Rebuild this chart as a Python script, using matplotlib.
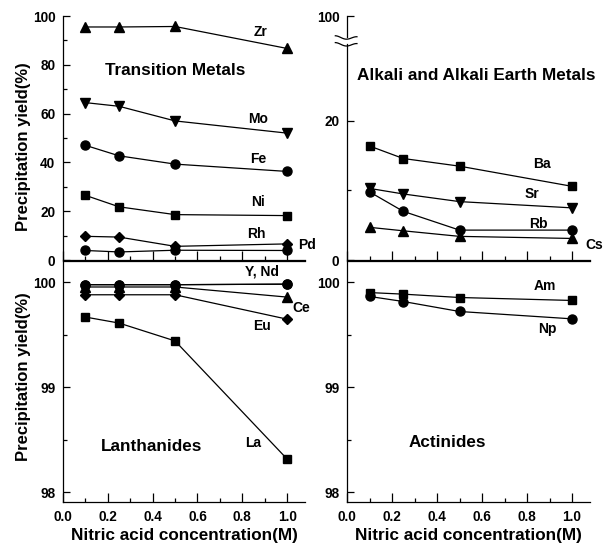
#!/usr/bin/env python3
"""
Precipitation yield vs nitric acid concentration, four element groups.
"""

import numpy as np
import matplotlib
matplotlib.use('Agg')
import matplotlib.pyplot as plt
from matplotlib.ticker import FixedLocator, FixedFormatter, MultipleLocator

plt.rcParams['font.family'] = ['Liberation Sans', 'DejaVu Sans']
plt.rcParams['font.weight'] = 'bold'

# nitric acid concentration (M)
conc = [0.1, 0.25, 0.5, 1.0]

# transition metals (%)
zr = [95.5, 95.5, 95.7, 86.7]
mo = [64.5, 63.0, 57.0, 52.0]
fe = [47.0, 42.7, 39.3, 36.3]
ni = [26.5, 21.8, 18.6, 18.2]
rh = [9.7, 9.4, 5.6, 6.6]
pd_ = [3.9, 3.3, 4.0, 3.9]

# alkali and alkali earth metals (%)
ba = [16.4, 14.6, 13.5, 10.6]
sr = [10.3, 9.5, 8.4, 7.5]
rb = [9.8, 7.0, 4.3, 4.3]
cs = [4.7, 4.2, 3.4, 3.1]

# lanthanides (%)
y_ = [99.975, 99.975, 99.975, 99.98]
nd = [99.975, 99.975, 99.975, 99.98]
ce = [99.953, 99.953, 99.953, 99.857]
eu = [99.879, 99.879, 99.879, 99.647]
la = [99.667, 99.61, 99.44, 98.317]

# actinides (%)
am = [99.90, 99.885, 99.853, 99.825]
np_ = [99.863, 99.815, 99.72, 99.65]

# tick labels
x_ticks = [0.0, 0.2, 0.4, 0.6, 0.8, 1.0]
x_ticklabels = ['0.0', '0.2', '0.4', '0.6', '0.8', '1.0']
ak_ticks = [0, 20, 100]
ln_ticks = [98, 99, 100]

LINE = dict(color='black', lw=0.9, clip_on=False, zorder=3)
MS = {'o': 6.5, 's': 6.0, '^': 7.0, 'v': 7.0, 'D': 5.5}


def series(ax, xs, ys, marker):
    ax.plot(xs, ys, marker=marker, ms=MS[marker], mfc='black', mec='black', **LINE)


def style_axis(ax, xlabels):
    ax.set_xlim(0, 1.08)
    ax.spines['right'].set_visible(False)
    ax.xaxis.set_major_locator(FixedLocator(x_ticks))
    ax.xaxis.set_major_formatter(FixedFormatter(x_ticklabels))
    ax.xaxis.set_minor_locator(MultipleLocator(0.1))
    ax.tick_params(axis='x', which='major', direction='in', length=6.5, width=0.9,
                   labelsize=9.8, pad=5.5, labelbottom=xlabels)
    ax.tick_params(axis='x', which='minor', direction='in', length=3, width=0.9)
    ax.tick_params(axis='y', which='major', direction='in', length=5, width=0.9,
                   labelsize=9.8, pad=5.5)
    ax.tick_params(axis='y', which='minor', direction='in', length=3, width=0.9)
    for s in ax.spines.values():
        s.set_linewidth(0.9)
    if xlabels:
        ax.set_xlabel('Nitric acid concentration(M)', fontsize=12.3, fontweight='bold',
                      labelpad=3)


W, H = 609, 547
fig = plt.figure(figsize=(W / 100, H / 100), dpi=100)

ax_tm = fig.add_axes([63 / W, 1 - 260 / H, 242 / W, 244 / H])
ax_ak = fig.add_axes([347 / W, 1 - 260 / H, 243 / W, 244 / H])
ax_ln = fig.add_axes([63 / W, 1 - 502.3 / H, 242 / W, 241.8 / H])
ax_ac = fig.add_axes([347 / W, 1 - 502.3 / H, 243 / W, 241.8 / H])

# --- transition metals
ax = ax_tm
for ys, m in [(zr, '^'), (mo, 'v'), (fe, 'o'), (ni, 's'), (rh, 'D'), (pd_, 'o')]:
    series(ax, conc, ys, m)
ax.set_ylim(0, 100)
ax.yaxis.set_major_locator(MultipleLocator(20))
ax.yaxis.set_minor_locator(MultipleLocator(10))
ax.spines['top'].set_visible(False)
style_axis(ax, False)
ax.text(0.5, 77.6, 'Transition Metals', ha='center', va='center', fontsize=12.3, fontweight='bold')
for name, x, y in [('Zr', 0.88, 93.4), ('Mo', 0.87, 57.7), ('Fe', 0.87, 41.3),
                   ('Ni', 0.87, 23.9), ('Rh', 0.865, 10.7)]:
    ax.text(x, y, name, ha='center', va='center', fontsize=10, fontweight='bold')
ax.text(1.05, 6.1, 'Pd', ha='left', va='center', fontsize=10, fontweight='bold', clip_on=False)
ax.text(-0.163, 0.464, 'Precipitation yield(%)', transform=ax.transAxes, rotation=90,
        ha='center', va='center', fontsize=12, fontweight='bold')

# --- alkali and alkali earth metals (broken axis: 0-30 linear, 30-100 squeezed)
ax = ax_ak
k = 5.1 / 70.0


def fwd(v):
    v = np.asarray(v, dtype=float)
    return np.where(v <= 30, v, 30 + (v - 30) * k)


def inv(u):
    u = np.asarray(u, dtype=float)
    return np.where(u <= 30, u, 30 + (u - 30) / k)


ax.set_yscale('function', functions=(fwd, inv))
for ys, m in [(ba, 's'), (sr, 'v'), (rb, 'o'), (cs, '^')]:
    series(ax, conc, ys, m)
ax.set_ylim(0, 100)
ax.yaxis.set_major_locator(FixedLocator(ak_ticks))
ax.yaxis.set_minor_locator(FixedLocator([10]))
ax.yaxis.set_major_formatter(FixedFormatter([str(t) for t in ak_ticks]))
ax.spines['top'].set_visible(False)
ax.spines['left'].set_visible(False)
style_axis(ax, False)
ax.plot([0, 0], [0, 0.885], transform=ax.transAxes, color='black', lw=0.9, clip_on=False)
ax.plot([0, 0], [0.913, 1.0], transform=ax.transAxes, color='black', lw=0.9, clip_on=False)
bx = np.linspace(-0.048, 0.041, 30)
wave = -0.006 * np.sin((bx - bx[0]) / (bx[-1] - bx[0]) * 2 * np.pi - np.pi / 2)
for y0 in (0.913, 0.885):
    ax.plot(bx, y0 + wave - 0.004 * (bx - bx[0]) / (bx[-1] - bx[0]), transform=ax.transAxes,
            color='black', lw=0.9, clip_on=False)
ax.text(0.575, 26.5, 'Alkali and Alkali Earth Metals', ha='center', va='center',
        fontsize=12.3, fontweight='bold')
for name, x, y in [('Ba', 0.866, 13.8), ('Sr', 0.82, 9.45), ('Rb', 0.85, 5.2)]:
    ax.text(x, y, name, ha='center', va='center', fontsize=10, fontweight='bold')
ax.text(1.1, 2.16, 'Cs', ha='center', va='center', fontsize=10, fontweight='bold', clip_on=False)

# --- lanthanides
ax = ax_ln
for ys, m in [(la, 's'), (eu, 'D'), (ce, '^'), (nd, 'o'), (y_, 'o')]:
    series(ax, conc, ys, m)
ax.set_ylim(97.905, 100.205)
ax.yaxis.set_major_locator(FixedLocator(ln_ticks))
ax.yaxis.set_minor_locator(FixedLocator([98.5, 99.5]))
ax.yaxis.set_major_formatter(FixedFormatter([str(t) for t in ln_ticks]))
style_axis(ax, True)
ax.text(0.396, 98.44, 'Lanthanides', ha='center', va='center', fontsize=12.3, fontweight='bold')
for name, x, y in [('Y, Nd', 0.887, 100.1), ('Eu', 0.887, 99.58), ('La', 0.85, 98.47)]:
    ax.text(x, y, name, ha='center', va='center', fontsize=10, fontweight='bold')
ax.text(1.065, 99.75, 'Ce', ha='center', va='center', fontsize=10, fontweight='bold', clip_on=False)
ax.text(-0.163, 0.52, 'Precipitation yield(%)', transform=ax.transAxes, rotation=90,
        ha='center', va='center', fontsize=12, fontweight='bold')

# --- actinides
ax = ax_ac
for ys, m in [(am, 's'), (np_, 'o')]:
    series(ax, conc, ys, m)
ax.set_ylim(97.905, 100.205)
ax.yaxis.set_major_locator(FixedLocator(ln_ticks))
ax.yaxis.set_minor_locator(FixedLocator([98.5, 99.5]))
ax.yaxis.set_major_formatter(FixedFormatter([str(t) for t in ln_ticks]))
style_axis(ax, True)
ax.text(0.447, 98.47, 'Actinides', ha='center', va='center', fontsize=12.3, fontweight='bold')
ax.text(0.88, 99.965, 'Am', ha='center', va='center', fontsize=10, fontweight='bold')
ax.text(0.89, 99.55, 'Np', ha='center', va='center', fontsize=10, fontweight='bold')

# tick labels are rebuilt at draw time, so make them bold after a first draw
fig.canvas.draw()
for ax in (ax_tm, ax_ak, ax_ln, ax_ac):
    for lab in ax.get_xticklabels() + ax.get_yticklabels():
        lab.set_fontweight('bold')

fig.savefig('out.png', dpi=100)
